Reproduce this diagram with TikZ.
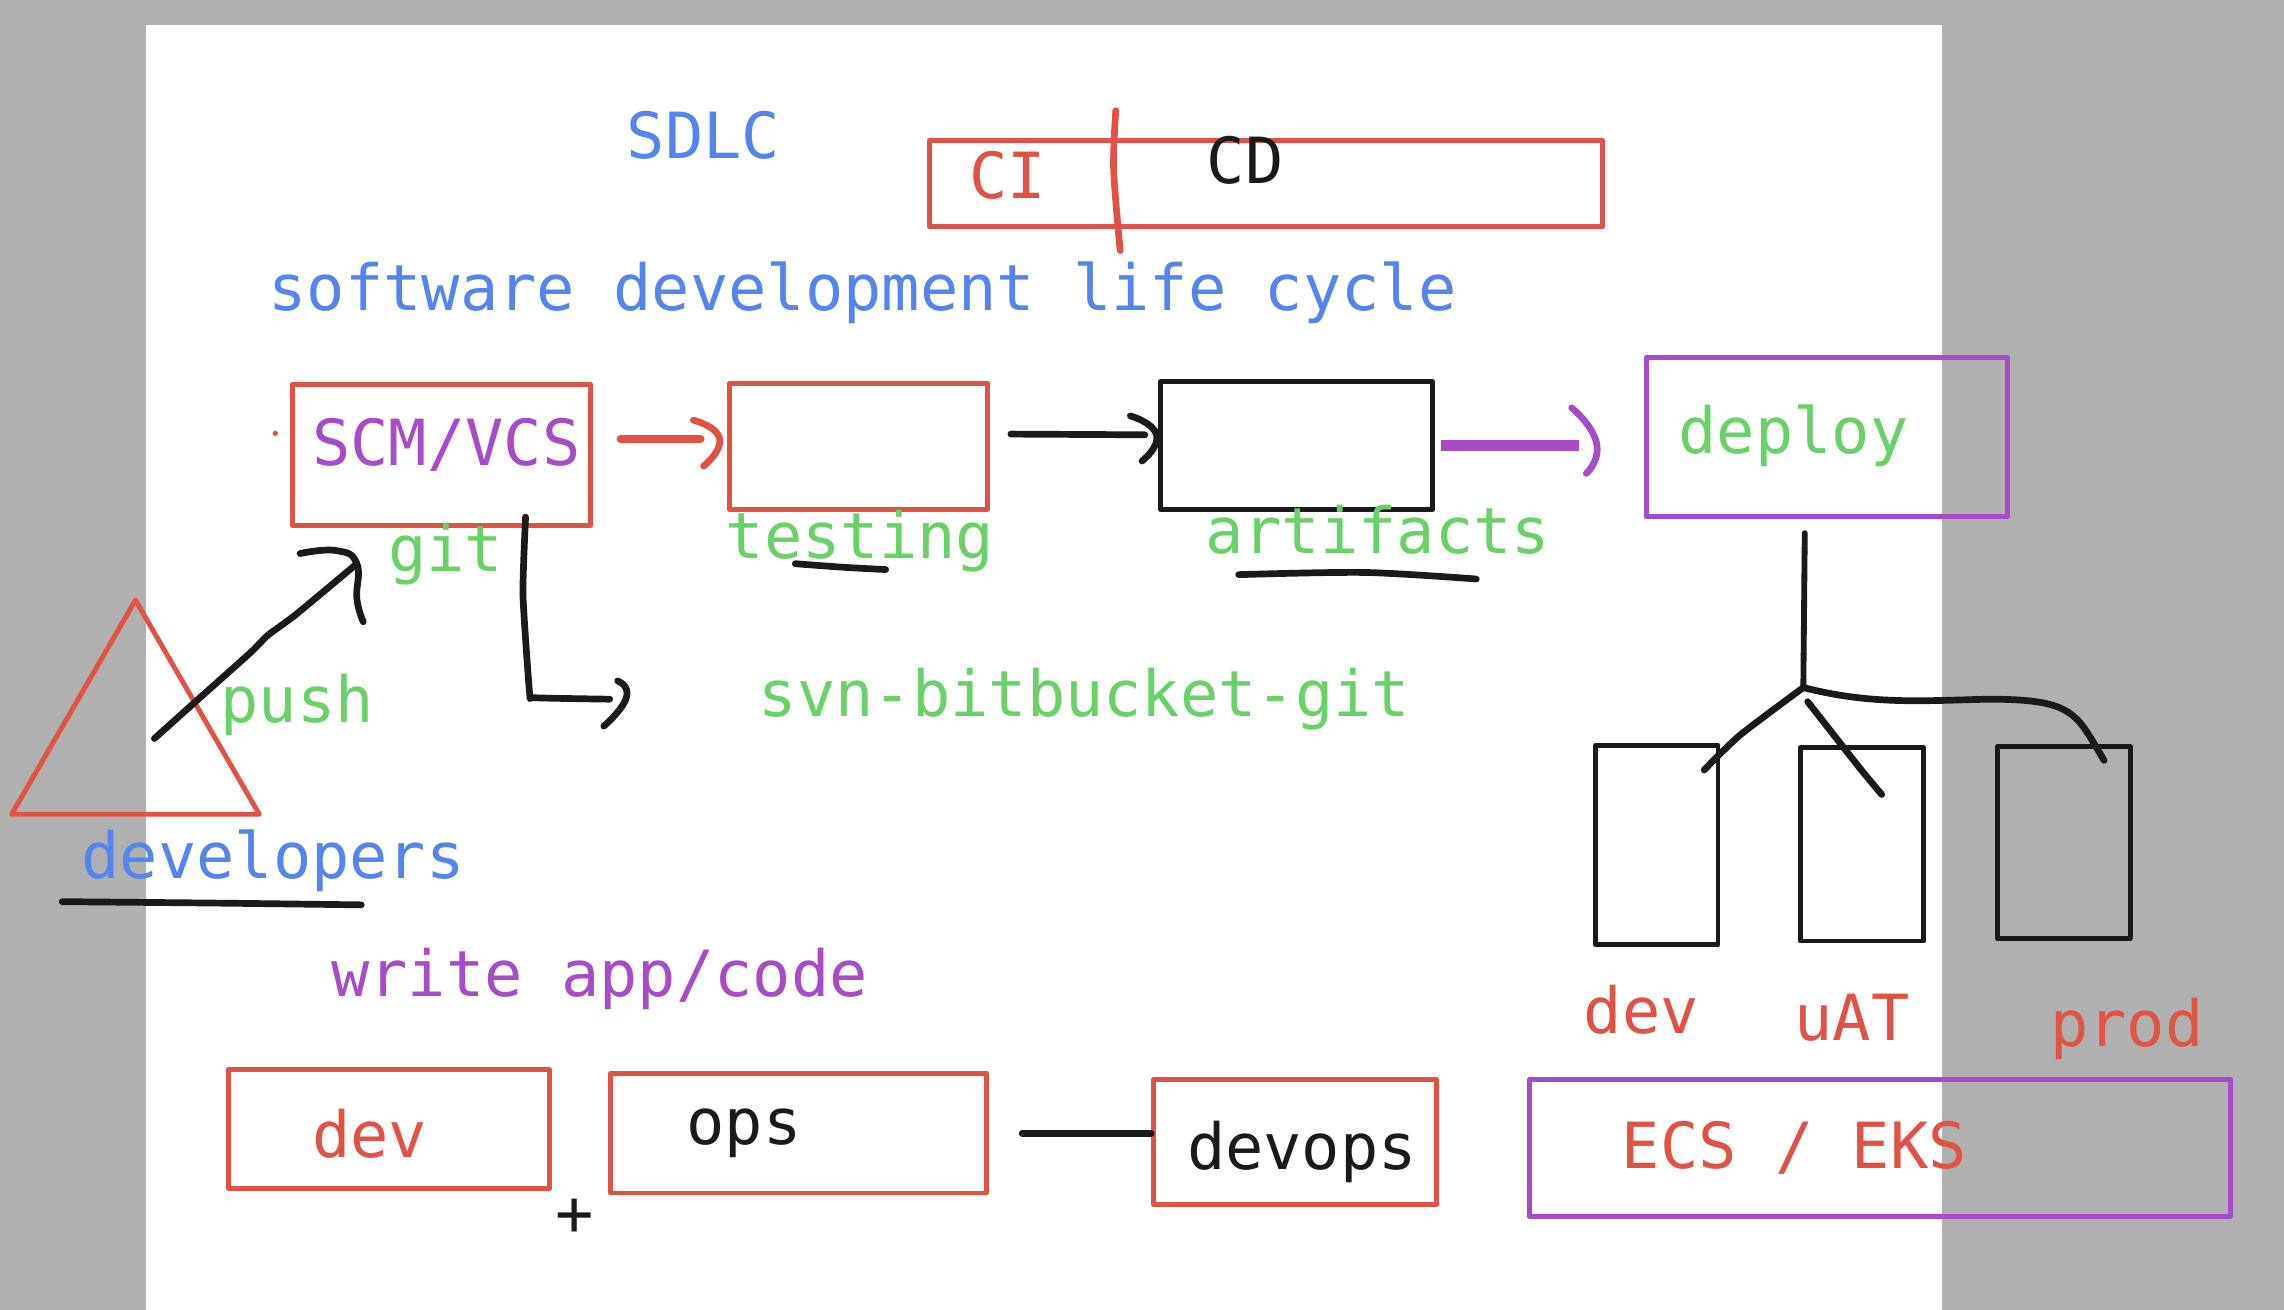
\documentclass[tikz,border=0pt]{standalone}
\usepackage{fontspec}
\setmonofont{DejaVu Sans Mono}
\definecolor{cRed}{RGB}{224,82,68}
\definecolor{cBlue}{RGB}{84,132,238}
\definecolor{cGreen}{RGB}{104,210,104}
\definecolor{cPurple}{RGB}{166,76,198}
\definecolor{cInk}{RGB}{26,26,26}
\definecolor{cGrey}{RGB}{176,176,176}

\begin{document}
\begin{tikzpicture}[
  x=0.5pt, y=-0.5pt,
  font=\ttfamily\fontsize{21.85}{26}\selectfont,
  box/.style  = {draw, line width=1.7pt, inner sep=0pt, line join=round},
  lbl/.style  = {anchor=base west, inner sep=0pt},
  hand/.style = {line width=2.3pt, line cap=round, line join=round, cInk},
  head/.style = {line width=2.3pt, line cap=round, line join=round, smooth, tension=1}
]

% ------------------------------------------------------------- il fondo --
\fill[cGrey] (0,0) rectangle (1568,899.3);
\fill[white] (100.5,17) rectangle (1333,899.3);
\useasboundingbox (0,0) rectangle (1568,899.3);

% ------------------------------------------------------------- i box --
\node[box, draw=cRed, minimum width=231pt, minimum height=29.7pt] (cicd) at (869,126) {};
\node[box, draw=cRed, minimum width=102.3pt, minimum height=48.5pt] (scm) at (303.3,312.5) {};
\node[box, draw=cRed, minimum width=88.5pt, minimum height=43.5pt] (test) at (589.5,306.5) {};
\node[box, draw=cInk, minimum width=93.3pt, minimum height=44pt] (art) at (890.2,306) {};
\node[box, draw=cPurple, minimum width=124pt, minimum height=54.5pt] (deploy) at (1254.3,300.2) {};
\node[box, draw=cInk, minimum width=42pt, minimum height=68.5pt] (envdev) at (1137.4,580.2) {};
\node[box, draw=cInk, minimum width=42.4pt, minimum height=66.3pt] (envuat) at (1278.2,579.7) {};
\node[box, draw=cInk, minimum width=45.7pt, minimum height=65.7pt] (envprod) at (1416.7,578.3) {};
\node[box, draw=cRed, minimum width=110pt, minimum height=41pt] (dev) at (267,775) {};
\node[box, draw=cRed, minimum width=129pt, minimum height=41pt] (ops) at (548,778) {};
\node[box, draw=cRed, minimum width=97pt, minimum height=43pt] (devops) at (889,784) {};
\node[box, draw=cPurple, minimum width=240.5pt, minimum height=47pt] (ecs) at (1290.5,788) {};
\node[circle, fill=cRed, inner sep=0pt, minimum size=1.8pt] (dot) at (189,297.5) {};
\draw[cRed, line width=1.7pt, line join=round] (93,412) -- (8,559) -- (178,559) -- cycle;

% ------------------------------------------------------------- i testi --
\node[lbl, text=cBlue]   (sdlc)  at (430,109) {SDLC};
\node[lbl, text=cRed]    (ci)    at (665,136) {CI};
\node[lbl, text=cInk]    (cd)    at (828,126) {CD};
\node[lbl, text=cBlue]   (sdl)   at (184,213) {software development life cycle};
\node[lbl, text=cPurple] (vcs)   at (214,319.5) {SCM/VCS};
\node[lbl, text=cGreen]  (git)   at (266,392) {git};
\node[lbl, text=cGreen]  (testing) at (498,383.5) {testing};
\node[lbl, text=cGreen]  (artifacts) at (827,380) {artifacts};
\node[lbl, text=cGreen]  (deploytxt) at (1152,311) {deploy};
\node[lbl, text=cGreen]  (push)  at (151,496) {push};
\node[lbl, text=cGreen]  (svn)   at (520.5,492) {svn-bitbucket-git};
\node[lbl, text=cBlue]   (devs)  at (55.5,603) {developers};
\node[lbl, text=cPurple] (write) at (227,684) {write app/code};
\node[lbl, text=cRed]    (devtxt) at (214,794.5) {dev};
\node[lbl, text=cInk]    (opstxt) at (471,786) {ops};
\node[lbl, text=cInk]    (devopstxt) at (814.5,803) {devops};
\node[lbl, text=cRed]    (ecstxt) at (1113,802.5) {ECS / EKS};
\node[lbl, text=cInk]    (plus)  at (381,848) {+};
\node[lbl, text=cRed]    (envdevtxt) at (1087,709.5) {dev};
\node[lbl, text=cRed]    (envuattxt) at (1231.5,714) {uAT};
\node[lbl, text=cRed]    (envprodtxt) at (1407,718.5) {prod};

% ------------------------------------------------------------- i tratti --
\coordinate (fork) at (1238,472);
\coordinate (drop) at (1239,366);
\coordinate (pushA) at (106,507);
\coordinate (pushB) at (245,387);
\coordinate (vcsA) at (360.8,355);
\coordinate (vcsB) at (418.6,480);

\draw[cRed, line width=2.3pt, line cap=round] plot[smooth] coordinates {(766,76) (764.5,116) (769,172)};

\draw[cRed, line width=2.7pt, line cap=round] (426,301.5) -- (481,301.5);
\draw[head, cRed] plot[smooth, tension=1] coordinates {(476,288.5) (494,301) (483,320)};

\draw[hand] (694,298) -- (786,298.5);
\draw[head, cInk] plot[smooth, tension=1] coordinates {(776,285.5) (794,298.5) (784,316.5)};

\draw[cPurple, line width=3.6pt] (989,306) -- (1084,306);
\draw[head, cPurple] plot[smooth, tension=1] coordinates {(1079,280) (1096,304) (1089,325)};

\draw[hand] plot[smooth, tension=.3] coordinates {(pushA) (135,481) (172,448) (184,436) (203,422) (pushB)};
\draw[hand] plot[smooth, tension=.8] coordinates {(206,380) (231,378) (pushB) (245,411) (249.4,426.8)};

\draw[hand] plot[smooth, tension=.3] coordinates {(vcsA) (359,408) (363.6,476) (367,479) (vcsB)};
\draw[head, cInk] plot[smooth, tension=1] coordinates {(424,467.5) (430,479) (414.5,498.5)};

\draw[hand] plot[smooth] coordinates {(42.7,619) (150,620) (248,621.2)};
\draw[hand] plot[smooth] coordinates {(546,387) (580,389.5) (608,391)};
\draw[hand] plot[smooth] coordinates {(850.4,394.5) (937,393) (1013.5,397.5)};

\draw[hand, shorten <=11.5pt] (ops.east) -- (ops.east -| devops.west);

\draw[hand, line width=2pt] (drop) -- (fork);
\draw[hand] plot[smooth, tension=.4] coordinates {(fork) (1194.6,504.6) (1169.9,528.6)};
\draw[hand] plot[smooth, tension=.4] coordinates {(1241,481.7) (1277,527.6) (1291.8,545.4)};
\draw[hand] (fork) .. controls (1285,484) and (1320,481) .. (1365,480)
  .. controls (1425,480) and (1425,490) .. (1444.5,522);

\end{tikzpicture}
\end{document}
